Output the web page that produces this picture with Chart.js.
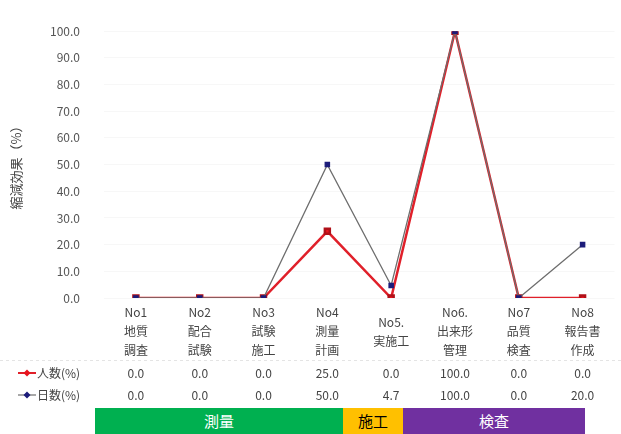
<!DOCTYPE html>
<html>
<head>
<meta charset="utf-8">
<script src="https://cdn.jsdelivr.net/npm/chart.js@4.4.1/dist/chart.umd.min.js"></script>
<style>
  body { margin: 0; background: #fff; font-family: "Noto Sans CJK JP", sans-serif; }
  #wrap { position: relative; width: 621px; height: 434px; }
  #chartBox { position: absolute; left: 0; top: 0; width: 621px; height: 408px; }
  .band { position: absolute; top: 408px; height: 26px; line-height: 26px; text-align: center; font-size: 15px; }
</style>
</head>
<body>
<div id="wrap">
  <div id="chartBox"><canvas id="effectChart"></canvas></div>
  <div class="band" style="left:95px;width:248px;background:#00b050;color:#fff;">測量</div>
  <div class="band" style="left:343px;width:60px;background:#ffc000;color:#000;">施工</div>
  <div class="band" style="left:403px;width:182px;background:#7030a0;color:#fff;">検査</div>
</div>
<script>
var categories = [
  ['No1', '地質', '調査'],
  ['No2', '配合', '試験'],
  ['No3', '試験', '施工'],
  ['No4', '測量', '計画'],
  ['No5.', '実施工'],
  ['No6.', '出来形', '管理'],
  ['No7', '品質', '検査'],
  ['No8', '報告書', '作成']
];
var peopleValues = [0.0, 0.0, 0.0, 25.0, 0.0, 100.0, 0.0, 0.0];
var dayValues = [0.0, 0.0, 0.0, 50.0, 4.7, 100.0, 0.0, 20.0];
var seriesLabels = ['人数(%)', '日数(%)'];
var yTicks = [0, 10, 20, 30, 40, 50, 60, 70, 80, 90, 100];

var FONT = '"Noto Sans CJK JP", sans-serif';

// table under the x axis: category names, legend and values
var tablePlugin = {
  id: 'dataTable',
  afterDraw: function(chart) {
    var ctx = chart.ctx;
    var x = chart.scales.x;
    ctx.save();
    ctx.font = '12px ' + FONT;
    ctx.fillStyle = '#444';
    ctx.textAlign = 'center';
    ctx.textBaseline = 'middle';
    categories.forEach(function(lines, i) {
      var px = x.getPixelForValue(i);
      var startY = lines.length == 3 ? 312 : 322;
      lines.forEach(function(t, j) {
        ctx.fillText(t, px, startY + j * 19);
      });
      ctx.fillText(peopleValues[i].toFixed(1), px, 373);
      ctx.fillText(dayValues[i].toFixed(1), px, 395);
    });

    // faint separator
    ctx.strokeStyle = '#e4e4e4';
    ctx.setLineDash([3, 3]);
    ctx.lineWidth = 1;
    ctx.beginPath();
    ctx.moveTo(0, 360.5);
    ctx.lineTo(621, 360.5);
    ctx.stroke();
    ctx.setLineDash([]);

    // legend keys
    var sets = chart.data.datasets;
    [373, 395].forEach(function(ry, k) {
      var ds = sets.find(function(d) { return d.label == seriesLabels[k]; });
      ctx.strokeStyle = ds.borderColor;
      ctx.lineWidth = k == 0 ? 2 : 1.2;
      ctx.beginPath();
      ctx.moveTo(18, ry);
      ctx.lineTo(36, ry);
      ctx.stroke();
      ctx.fillStyle = ds.pointBackgroundColor;
      ctx.beginPath();
      ctx.moveTo(27, ry - 3.5);
      ctx.lineTo(30.5, ry);
      ctx.lineTo(27, ry + 3.5);
      ctx.lineTo(23.5, ry);
      ctx.closePath();
      ctx.fill();
      ctx.fillStyle = '#444';
      ctx.textAlign = 'left';
      ctx.fillText(seriesLabels[k], 37, ry);
    });
    ctx.restore();
  }
};

var ctx = document.getElementById('effectChart').getContext('2d');
var effectChart = new Chart(ctx, {
  type: 'line',
  data: {
    labels: categories.map(function(c) { return c.join(''); }),
    datasets: [{
      label: seriesLabels[1],
      data: dayValues,
      borderColor: '#6e6e6e',
      backgroundColor: '#6e6e6e',
      pointBackgroundColor: '#1c1c7a',
      pointBorderColor: '#1c1c7a',
      borderWidth: 1.3,
      pointStyle: 'rect',
      pointRadius: 3,
      tension: 0
    }, {
      label: seriesLabels[0],
      data: peopleValues,
      borderColor: '#e0202a',
      backgroundColor: '#e0202a',
      pointBackgroundColor: '#e8141e',
      pointBorderColor: '#b01018',
      borderWidth: 2.5,
      pointStyle: 'rect',
      pointRadius: 3.5,
      tension: 0
    }]
  },
  options: {
    responsive: true,
    maintainAspectRatio: false,
    animation: false,
    layout: { padding: { left: 8, right: 5, top: 15, bottom: 0 } },
    plugins: {
      legend: { display: false },
      tooltip: { enabled: false }
    },
    scales: {
      x: {
        type: 'category',
        offset: true,
        grid: { display: false },
        border: { display: false },
        ticks: { display: false },
        afterFit: function(scale) { scale.height = 110; }
      },
      y: {
        min: 0,
        max: 100,
        afterBuildTicks: function(scale) {
          scale.ticks = yTicks.map(function(v) { return { value: v }; });
        },
        grid: { color: '#f7f7f7', drawTicks: false },
        border: { display: false },
        ticks: {
          padding: 24,
          color: '#555',
          font: { family: FONT, size: 12 },
          callback: function(v) { return Number(v).toFixed(1); }
        },
        title: {
          display: true,
          text: '縮減効果（%）',
          color: '#444',
          font: { family: FONT, size: 13 },
          padding: 0
        },
        afterFit: function(scale) { scale.width = 96; }
      }
    }
  },
  plugins: [tablePlugin]
});
</script>
</body>
</html>
